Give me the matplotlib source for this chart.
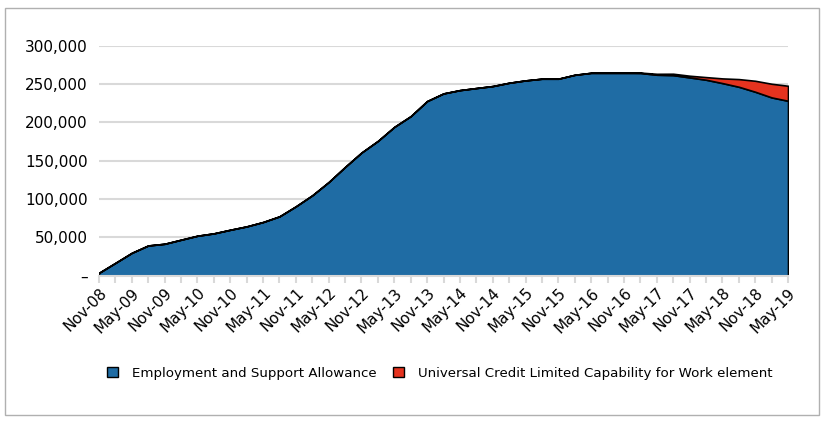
import matplotlib
matplotlib.use("Agg")
import matplotlib.pyplot as plt
from matplotlib.patches import Patch, Rectangle
from matplotlib.ticker import FuncFormatter

# quarterly caseload, Nov-08 .. May-19
month_names = ["Jan", "Feb", "Mar", "Apr", "May", "Jun",
               "Jul", "Aug", "Sep", "Oct", "Nov", "Dec"]
quarters = []
for i in range(43):
    m = 10 + 3 * i
    quarters.append(f"{month_names[m % 12]}-{(8 + m // 12):02d}")

esa = [3500, 16500, 29600, 39200, 41400, 46700, 51900, 55000, 59700, 64100,
       69800, 77200, 90300, 104700, 122000, 141700, 160500, 175700, 194000, 208000,
       227700, 237700, 242000, 244700, 247300, 251600, 254700, 256900, 256900, 262000,
       264600, 264600, 264600, 264400, 262100, 261600, 258600, 255600, 251200, 246400,
       239900, 232500, 228100]
uc_lcw = [0] * 33 + [500, 1200, 1800, 2200, 3400, 6100, 10000, 14300, 17800, 19600]

legend_labels = ["Employment and Support Allowance",
                 "Universal Credit Limited Capability for Work element"]
BLUE = "#1f6ca4"
RED = "#e5331f"

fig = plt.figure(figsize=(8.25, 4.23), dpi=100)
fig.patches.append(Rectangle((5 / 825, 8 / 423), 814 / 825, 407 / 423,
                             transform=fig.transFigure, fill=False,
                             edgecolor="#b0b0b0", linewidth=1))
ax = fig.add_axes([99 / 825, 1 - 275.5 / 423, 689 / 825, 229.8 / 423])

x = list(range(len(esa)))
ax.stackplot(x, esa, uc_lcw, colors=[BLUE, RED], edgecolor="black",
             linewidth=1.2)

ax.set_xlim(0, len(esa) - 1)
ax.set_ylim(0, 300000)
ax.set_yticks(range(0, 300001, 50000))
ax.yaxis.set_major_formatter(FuncFormatter(lambda v, p: "–" if v == 0 else f"{int(v):,}"))
ax.grid(axis="y", color="#d9d9d9", linewidth=1.5)
ax.set_axisbelow(True)

ax.set_xticks(x)
ax.set_xticklabels([q if i % 2 == 0 else "" for i, q in enumerate(quarters)],
                   rotation=45, ha="right", rotation_mode="anchor", fontsize=11)
ax.tick_params(axis="x", length=5, color="#d9d9d9", width=1.5, pad=2)
ax.tick_params(axis="y", length=0, labelsize=11, pad=8)
for s in ["top", "right", "left"]:
    ax.spines[s].set_visible(False)
ax.spines["bottom"].set_color("#d9d9d9")
ax.spines["bottom"].set_linewidth(1.5)

handles = [Patch(facecolor=BLUE, edgecolor="black"),
           Patch(facecolor=RED, edgecolor="black")]
fig.legend(handles, legend_labels, loc="center", bbox_to_anchor=(440 / 825, 1 - 373 / 423),
           ncol=2, frameon=False, fontsize=9.6, handlelength=0.8, handleheight=0.8,
           handletextpad=1.1, columnspacing=1.2)

fig.savefig("out.png", dpi=100)
